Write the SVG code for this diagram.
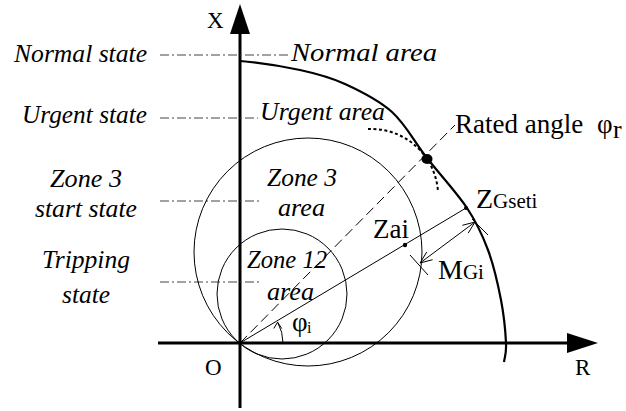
<svg xmlns="http://www.w3.org/2000/svg" width="626" height="411" viewBox="0 0 626 411">
<style>
text{font-family:"Liberation Serif","Times New Roman",serif;fill:#000}
.it{font-style:italic;font-size:25px}
.up{font-size:27px}
.dd{stroke:#444;stroke-width:1;stroke-dasharray:9 3 2 3;fill:none}
.thin{stroke:#000;stroke-width:1;fill:none}
.ax{stroke:#000;stroke-width:3;fill:none}
</style>
<rect width="626" height="411" fill="#fff"/>
<g id="axes">
<line class="ax" x1="240" y1="408" x2="240" y2="32"/>
<polygon points="240,4 230,34 250,34" fill="#000"/>
<line class="ax" x1="158" y1="343" x2="569" y2="343"/>
<polygon points="598,343 567,333 567,353" fill="#000"/>
<text x="207" y="28" style="font-size:23px">X</text>
<text x="205" y="375" style="font-size:23px">O</text>
<text x="575" y="375" style="font-size:23px">R</text>
</g>
<g id="state-lines">
<line class="dd" x1="160" y1="55" x2="290" y2="55"/>
<line class="dd" x1="160" y1="118" x2="258" y2="118"/>
<line class="dd" x1="160" y1="201" x2="262" y2="201"/>
<line class="dd" x1="160" y1="282" x2="262" y2="282"/>
</g>
<g id="state-labels">
<text class="it" x="14" y="62" textLength="133" lengthAdjust="spacingAndGlyphs">Normal state</text>
<text class="it" x="22" y="123" textLength="125" lengthAdjust="spacingAndGlyphs">Urgent state</text>
<text class="it" x="50" y="187" textLength="72" lengthAdjust="spacingAndGlyphs">Zone 3</text>
<text class="it" x="35" y="217" textLength="102" lengthAdjust="spacingAndGlyphs">start state</text>
<text class="it" x="42" y="268" textLength="88" lengthAdjust="spacingAndGlyphs">Tripping</text>
<text class="it" x="62" y="303" textLength="48" lengthAdjust="spacingAndGlyphs">state</text>
</g>
<g id="boundary">
<path d="M240,61 C260,62.5 282.5,66.2 300,70 C317.5,73.8 329.7,77 345,84 C360.3,91 378.3,99.7 392,112 C405.7,124.3 414.5,142 427,158 C439.5,174 456.8,192.7 467,208 C477.2,223.3 482.3,234.7 488,250 C493.7,265.3 498,284.5 501,300 C504,315.5 505.5,332.7 506,343 C506.5,353.3 505,355.7 504,362" stroke="#000" stroke-width="2.2" fill="none"/>
<path d="M368,129 A67,67 0 0 1 438,192" stroke="#000" stroke-width="2" stroke-dasharray="3 2.5" fill="none"/>
<ellipse cx="427" cy="159" rx="5.5" ry="5" fill="#000"/>
</g>
<g id="zone3">
<circle class="thin" cx="308" cy="252" r="114"/>
</g>
<g id="zone12">
<circle class="thin" cx="282" cy="294" r="65"/>
</g>
<g id="connectors">
<line x1="240" y1="343" x2="455" y2="125" stroke="#000" stroke-width="1" stroke-dasharray="10 5"/>
<line class="thin" x1="240" y1="343" x2="466" y2="208"/>
<circle cx="466" cy="208" r="2" fill="#000"/>
<circle cx="405" cy="245" r="2.2" fill="#000"/>
<line class="thin" x1="420" y1="263" x2="475" y2="222"/>
<polyline class="thin" points="468.2,233.1 475,222 462.4,225.3"/>
<polyline class="thin" points="432.6,259.7 420,263 426.8,251.9"/>
<line class="thin" x1="472" y1="219" x2="488" y2="235"/>
<line class="thin" x1="410" y1="255" x2="428" y2="275"/>
<path class="thin" d="M283,343 A43,43 0 0 0 277.6,322.2"/>
<polyline class="thin" points="273.8,328.5 277.6,322.2 281.8,328.6"/>
</g>
<g id="area-labels">
<text class="it" x="291" y="61" textLength="146" lengthAdjust="spacingAndGlyphs">Normal area</text>
<text class="it" x="260" y="120" textLength="125" lengthAdjust="spacingAndGlyphs">Urgent area</text>
<text class="it" x="267" y="186" textLength="70" lengthAdjust="spacingAndGlyphs">Zone 3</text>
<text class="it" x="278" y="216" textLength="47" lengthAdjust="spacingAndGlyphs">area</text>
<text class="it" x="247" y="268" textLength="80" lengthAdjust="spacingAndGlyphs">Zone 12</text>
<text class="it" x="267" y="300" textLength="47" lengthAdjust="spacingAndGlyphs">area</text>
</g>
<g id="point-labels">
<text class="up" x="455" y="133">Rated angle</text>
<text class="up" x="597" y="133">φ</text>
<text x="613" y="138" style="font-size:26px">r</text>
<text x="476" y="208" style="font-size:28px">Z<tspan style="font-size:21px">Gseti</tspan></text>
<text class="up" x="373" y="238">Zai</text>
<text x="438" y="279" style="font-size:28px">M<tspan style="font-size:21px">Gi</tspan></text>
<text class="up" x="292" y="331">φ</text>
<text x="307" y="333" style="font-size:16px">i</text>
</g>
</svg>
